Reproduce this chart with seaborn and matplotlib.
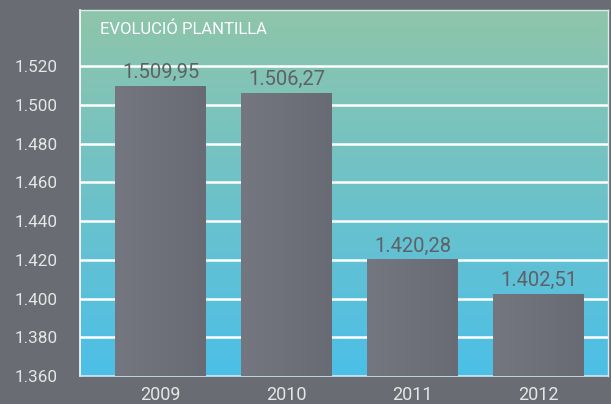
import numpy as np
import pandas as pd
import matplotlib
matplotlib.use("Agg")
import matplotlib.pyplot as plt
import seaborn as sns
from matplotlib.colors import LinearSegmentedColormap

# data
years = ["2009", "2010", "2011", "2012"]
staff = [1509.95, 1506.27, 1420.28, 1402.51]
ytick_vals = [1360, 1380, 1400, 1420, 1440, 1460, 1480, 1500, 1520]
title = "EVOLUCIÓ PLANTILLA"

df = pd.DataFrame({"year": years, "staff": staff})

sns.set_style("white")
plt.rcParams["font.family"] = ["Roboto", "DejaVu Sans"]

bg = "#696c73"
fig = plt.figure(figsize=(6.11, 4.04), dpi=100, facecolor=bg)
ax = fig.add_axes([0.131, 0.069, 0.864, 0.906])
ymin, ymax = 1360, 1549
xmin, xmax = -0.64, 3.55

# gradient background of the plot area
bg_cmap = LinearSegmentedColormap.from_list("bgc", ["#4cbfe7", "#8fc5aa"])
grad = np.linspace(0, 1, 256).reshape(-1, 1)
ax.imshow(grad, cmap=bg_cmap, aspect="auto", origin="lower",
          extent=[xmin, xmax, ymin, ymax], zorder=0)

# white grid lines
for v in ytick_vals[1:]:
    ax.axhline(v, color="white", lw=1.8, zorder=1)

sns.barplot(data=df, x="year", y="staff", color="#6e7179", width=0.72,
            ax=ax, zorder=2)

# horizontal shading on bars
bar_cmap = LinearSegmentedColormap.from_list("barc", ["#74777f", "#686b73"])
hgrad = np.linspace(0, 1, 256).reshape(1, -1)
for p in ax.patches:
    x0, w, h = p.get_x(), p.get_width(), p.get_height()
    im = ax.imshow(hgrad, cmap=bar_cmap, aspect="auto",
                   extent=[x0, x0 + w, ymin, h], zorder=3)
    im.set_clip_path(p)
    p.set_edgecolor("none")

def fmt(v):
    s = f"{v:,.2f}"
    return s.replace(",", "X").replace(".", ",").replace("X", ".")

for i, v in enumerate(staff):
    ax.text(i, v + 2.0, fmt(v), ha="center", va="bottom",
            fontsize=14.5, color="#5e6167", zorder=4)

ax.text(-0.48, 1539, title, ha="left", va="center", fontsize=12,
        color="white", zorder=4)

ax.set_xlim(xmin, xmax)
ax.set_ylim(ymin, ymax)
ax.set_yticks(ytick_vals)
ax.set_yticklabels([f"{v:,}".replace(",", ".") for v in ytick_vals])
ax.set_xlabel("")
ax.set_ylabel("")
ax.tick_params(axis="y", colors="#e6e6e6", labelsize=12.3, length=0, pad=16)
ax.tick_params(axis="x", colors="#e6e6e6", labelsize=13, length=0, pad=7)

for side in ["top", "right"]:
    ax.spines[side].set_color("#d8ece8")
    ax.spines[side].set_linewidth(1)
ax.spines["left"].set_color("white")
ax.spines["left"].set_linewidth(1.2)
ax.spines["bottom"].set_color("#cfe9f3")
ax.spines["bottom"].set_linewidth(1.2)

fig.savefig("out.png", dpi=100, facecolor=bg)
